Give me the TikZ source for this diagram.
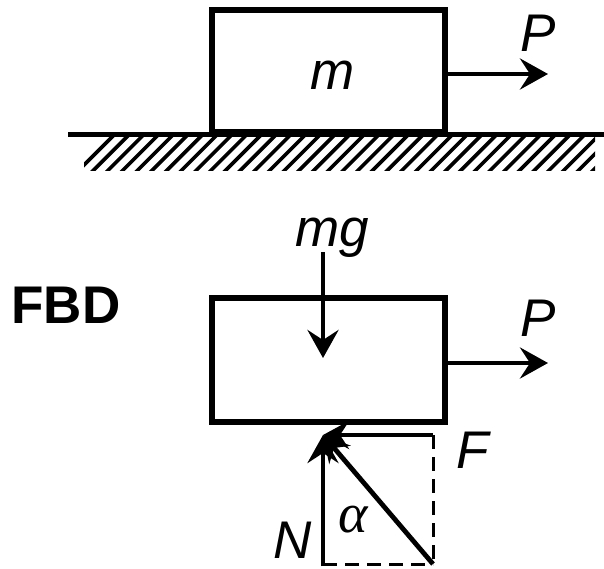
\documentclass[tikz,border=0pt]{standalone}
\usepackage{fontspec}
\setmainfont{Liberation Sans}
\newfontfamily\greekfont{Liberation Serif}
\usetikzlibrary{arrows.meta}
\tikzset{
  blockbox/.style={draw,line width=5.2pt,minimum width=233pt,inner sep=0pt,outer sep=0pt},
  force/.style={line width=4.8pt,-{Stealth[length=28pt,width=31pt,inset=10pt]}},
  forcesmall/.style={line width=4.8pt,-{Stealth[length=26pt,width=28pt,inset=9pt]}},
  guide/.style={line width=3pt,dash pattern=on 14pt off 8pt},
  lab/.style={inner sep=0pt,font=\fontsize{53}{53}\selectfont\itshape},
}
\begin{document}
\begin{tikzpicture}[x=1pt,y=-1pt]
\useasboundingbox (0,0) rectangle (604,568);
% hatching
\begin{scope}
\clip (84,136) rectangle (595,170);
\foreach \i in {0,...,37}{
  \draw[line width=3.6pt] ({74+14.7*\i},175) -- ({74+14.7*\i+45},130);
}
\end{scope}
% ground
\coordinate (gl) at (68,134);
\coordinate (gr) at (604,134);
\draw[line width=5pt] (gl) -- (gr);
% top block
\node[blockbox,minimum height=122pt] (top) at (328.5,71) {};
\node[lab] (m) at (333,75) {m};
\coordinate (ta) at (445,74);
\coordinate (tb) at (548,74);
\draw[force] (ta) -- (tb);
\node[lab] (p1) at (538,33) {P};
% FBD
\node[inner sep=0pt,font=\fontsize{53}{53}\selectfont\bfseries] (fbd) at (66,305) {FBD};
\node[blockbox,minimum height=124pt] (bot) at (328.5,360) {};
\node[lab] (mg) at (332,238) {mg};
\coordinate (ga) at (323,252);
\coordinate (gb) at (323,358);
\draw[force] (ga) -- (gb);
\coordinate (ba) at (445,363);
\coordinate (bb) at (548,363);
\draw[force] (ba) -- (bb);
\node[lab] (p2) at (538,318) {P};
% resolved reaction
\coordinate (o) at (323,435);
\coordinate (fe) at (433,435);
\coordinate (ne) at (323,566);
\coordinate (c) at (433,564);
\coordinate (d) at (323,564);
\draw[guide] (fe) -- (c);
\draw[guide] (d) -- (c);
\draw[forcesmall] (fe) -- (o);
\draw[force] (ne) -- (o);
\draw[forcesmall] (c) -- (o);
\node[lab] (f) at (473,450) {F};
\node[lab] (n) at (293,540) {N};
\node[inner sep=0pt,font=\fontsize{56}{56}\selectfont\greekfont\itshape] (al) at (353,520) {α};
\end{tikzpicture}
\end{document}
